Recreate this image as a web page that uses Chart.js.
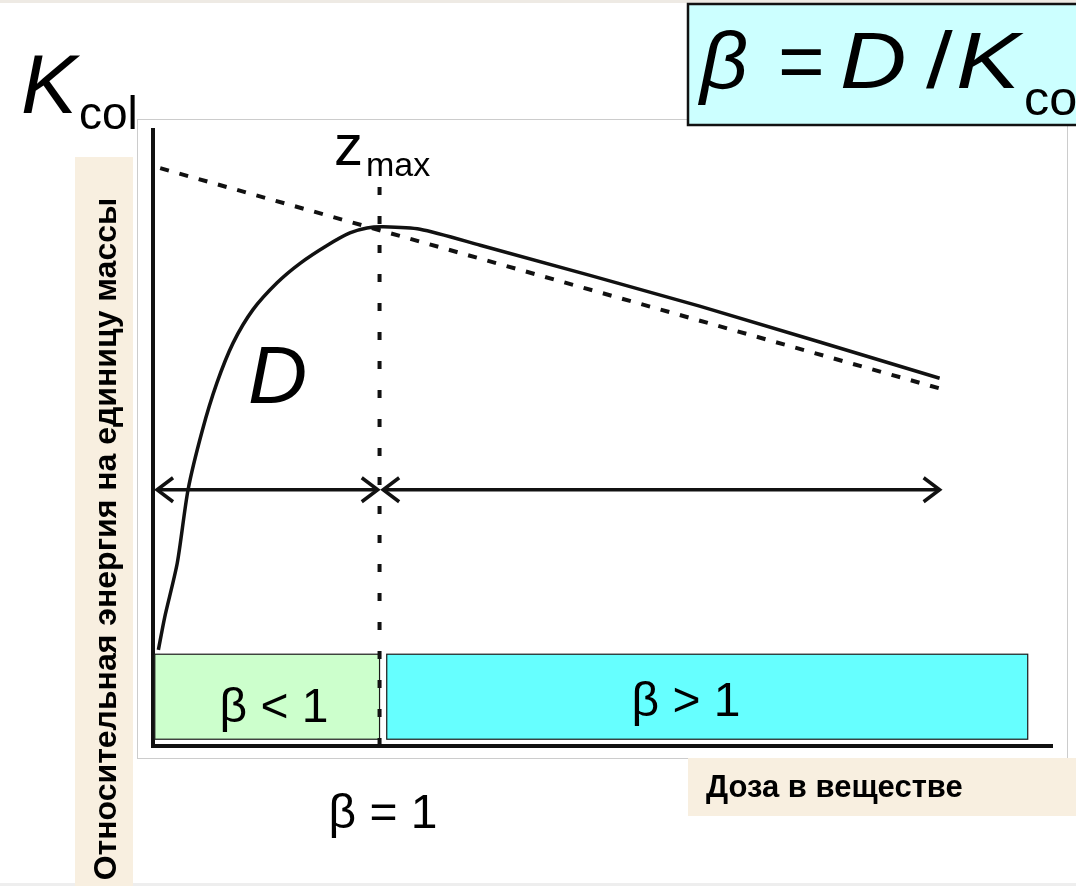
<!DOCTYPE html>
<html>
<head>
<meta charset="utf-8">
<script src="https://cdn.jsdelivr.net/npm/chart.js@4/dist/chart.umd.min.js"></script>
<style>
	html, body { margin: 0; padding: 0; background: #fff; overflow: hidden; }
	canvas { display: block; }
</style>
</head>
<body>
<canvas id="diagram" width="1076" height="886"></canvas>
<script>
// depth (x, 0..100) and relative energy (y, 0..100)
const depth = [0.6, 1.3, 2.7, 3.9, 5.5, 7.1, 8.9, 11.1, 13.8, 16.4, 19.4, 21.9, 23.8, 25.6, 29.7, 36.4, 60.8, 87.5];
const dose = [15.6, 20.9, 29.7, 41.6, 51.3, 58.9, 65.4, 70.8, 75.2, 78.4, 81.3, 83.3, 84.1, 84.3, 83.9, 81.3, 71.4, 59.7];

// K_col line (dashed)
const kcolDepth = [0.8, 88.1];
const kcolValue = [93.8, 57.8];

// depth of maximum
const zmax = 25.2;
const zmaxRange = [0, 91.1];

// double arrows
const arrowLevel = 41.6;
const arrowLeft = [0.45, 25.0];
const arrowRight = [25.6, 87.5];

// beta regions
const regionLess = [0.2, 25.2];
const regionMore = [26.0, 97.3];
const regionLow = [1.1, 14.9];

const FONT = '"Liberation Sans", Arial, sans-serif';

const toPoints = (xs, ys) => xs.map((x, i) => ({x: x, y: ys[i]}));

const data_diagram = {
	datasets: [
		{
			label: 'D',
			data: toPoints(depth, dose),
			borderColor: '#111',
			borderWidth: 3.5,
			pointRadius: 0,
			tension: 0.25,
			fill: false,
		},
		{
			label: 'Kcol',
			data: toPoints(kcolDepth, kcolValue),
			borderColor: '#111',
			borderWidth: 4,
			borderDash: [9, 11],
			pointRadius: 0,
		},
		{
			label: 'zmax',
			data: toPoints([zmax, zmax], zmaxRange),
			borderColor: '#111',
			borderWidth: 4,
			borderDash: [8, 21],
			pointRadius: 0,
		},
		{
			label: 'arrowLeft',
			data: toPoints(arrowLeft, [arrowLevel, arrowLevel]),
			borderColor: '#111',
			borderWidth: 3.5,
			pointRadius: 0,
		},
		{
			label: 'arrowRight',
			data: toPoints(arrowRight, [arrowLevel, arrowLevel]),
			borderColor: '#111',
			borderWidth: 3.5,
			pointRadius: 0,
		},
	]
};

function head(ctx, x, y, dir) {
	ctx.beginPath();
	ctx.moveTo(x - dir * 16, y - 12);
	ctx.lineTo(x, y);
	ctx.lineTo(x - dir * 16, y + 12);
	ctx.stroke();
}

// text stretched horizontally, like the original slide
function wide(ctx, text, x, y, font, sx) {
	ctx.save();
	ctx.translate(x, y);
	ctx.scale(sx, 1);
	ctx.font = font;
	ctx.fillText(text, 0, 0);
	ctx.restore();
}

const diagramPlugin = {
	id: 'diagram',
	beforeDraw(chart) {
		const ctx = chart.ctx;
		ctx.save();
		ctx.fillStyle = '#ffffff';
		ctx.fillRect(0, 0, chart.width, chart.height);
		// strips
		ctx.fillStyle = '#eeeae4';
		ctx.fillRect(0, 0, chart.width, 3);
		ctx.fillStyle = '#eeeeee';
		ctx.fillRect(0, 883, chart.width, 3);
		// picture frame
		ctx.strokeStyle = '#cccccc';
		ctx.lineWidth = 1;
		ctx.strokeRect(137.5, 119.5, 930, 639);
		// axis title boxes
		ctx.fillStyle = '#f8efe0';
		ctx.fillRect(75, 157, 58, 729);
		ctx.fillRect(688, 758, 388, 58);
		// formula box
		ctx.fillStyle = '#ccffff';
		ctx.fillRect(688, 3, 400, 123);
		ctx.strokeStyle = '#111';
		ctx.lineWidth = 2.5;
		ctx.strokeRect(688, 4, 400, 121);
		ctx.restore();
	},
	beforeDatasetsDraw(chart) {
		const {ctx, scales: {x, y}} = chart;
		ctx.save();
		const box = (r, fill) => {
			const l = x.getPixelForValue(r[0]);
			const rt = x.getPixelForValue(r[1]);
			const t = y.getPixelForValue(regionLow[1]);
			const b = y.getPixelForValue(regionLow[0]);
			ctx.fillStyle = fill;
			ctx.fillRect(l, t, rt - l, b - t);
			ctx.strokeStyle = '#1a1a1a';
			ctx.lineWidth = 1.2;
			ctx.strokeRect(l, t, rt - l, b - t);
		};
		box(regionLess, '#ccffcc');
		box(regionMore, '#66ffff');
		ctx.restore();
	},
	afterDatasetsDraw(chart) {
		const {ctx, scales: {x, y}} = chart;
		ctx.save();
		ctx.strokeStyle = '#111';
		ctx.lineWidth = 3.5;
		const yy = y.getPixelForValue(arrowLevel);
		head(ctx, x.getPixelForValue(arrowLeft[0]), yy, -1);
		head(ctx, x.getPixelForValue(arrowLeft[1]), yy, 1);
		head(ctx, x.getPixelForValue(arrowRight[0]), yy, -1);
		head(ctx, x.getPixelForValue(arrowRight[1]), yy, 1);
		ctx.restore();
	},
	afterDraw(chart) {
		const ctx = chart.ctx;
		ctx.save();
		ctx.fillStyle = '#000';
		ctx.textBaseline = 'alphabetic';
		ctx.textAlign = 'left';

		// K_col
		ctx.font = 'italic 84px ' + FONT;
		ctx.fillText('K', 21, 113);
		ctx.font = '46px ' + FONT;
		ctx.fillText('col', 79, 129);

		// z_max
		ctx.font = '58px ' + FONT;
		ctx.fillText('z', 334, 165);
		ctx.font = '34px ' + FONT;
		ctx.fillText('max', 366, 176);

		// D
		ctx.font = 'italic 82px ' + FONT;
		ctx.fillText('D', 248, 403);

		// formula
		wide(ctx, '\u03b2', 700, 88, 'italic 80px ' + FONT, 1.05);
		wide(ctx, '=', 778, 88, '80px ' + FONT, 1.0);
		wide(ctx, 'D', 840, 88, 'italic 80px ' + FONT, 1.15);
		wide(ctx, '/', 926, 88, '80px ' + FONT, 1.2);
		wide(ctx, 'K', 956, 88, 'italic 80px ' + FONT, 1.2);
		wide(ctx, 'co', 1024, 115, '48px ' + FONT, 1.05);

		// beta labels
		ctx.textAlign = 'center';
		ctx.font = '48px ' + FONT;
		ctx.fillText('\u03b2 < 1', 274, 722);
		ctx.fillText('\u03b2 > 1', 686, 716);
		ctx.fillText('\u03b2 = 1', 383, 828);

		// axis titles
		ctx.font = 'bold 31px ' + FONT;
		ctx.textAlign = 'left';
		ctx.fillText('Доза в веществе', 706, 797);

		ctx.translate(116, 539);
		ctx.rotate(-Math.PI / 2);
		ctx.textAlign = 'center';
		ctx.font = 'bold 32px ' + FONT;
		ctx.fillText('Относительная энергия на единицу массы', 0, 0);
		ctx.restore();
	}
};

const config_diagram = {
	type: 'line',
	data: data_diagram,
	options: {
		responsive: false,
		devicePixelRatio: 1,
		animation: false,
		layout: {
			padding: {left: 153, top: 130, right: 24, bottom: 140}
		},
		plugins: {
			legend: {display: false},
			title: {display: false},
			tooltip: {enabled: false}
		},
		scales: {
			x: {
				type: 'linear',
				min: 0,
				max: 100,
				grid: {display: false, drawTicks: false},
				ticks: {display: false},
				border: {display: true, color: '#111', width: 4}
			},
			y: {
				type: 'linear',
				min: 0,
				max: 100,
				grid: {display: false, drawTicks: false},
				ticks: {display: false},
				border: {display: true, color: '#111', width: 4}
			}
		}
	},
	plugins: [diagramPlugin]
};

const diagram = new Chart(document.getElementById('diagram'), config_diagram);
</script>
</body>
</html>
